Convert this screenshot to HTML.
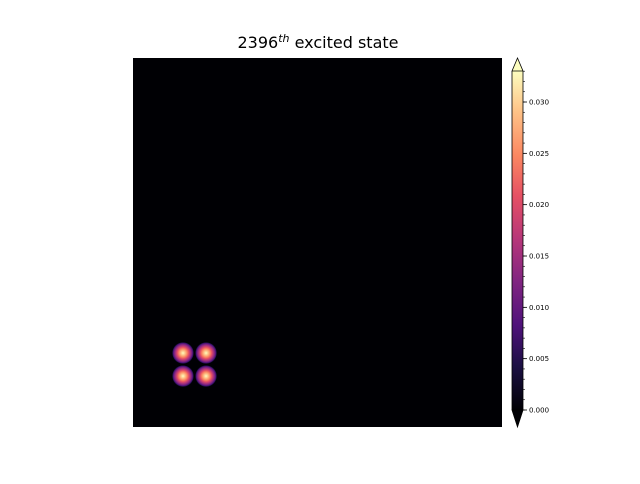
<!DOCTYPE html>
<html><head><meta charset="utf-8"><style>
body{margin:0;background:#fff;width:640px;height:480px;overflow:hidden;font-family:"DejaVu Sans","Liberation Sans",sans-serif}
</style></head><body>
<svg id="chart" width="640" height="480" xmlns="http://www.w3.org/2000/svg">
<defs>
<linearGradient id="magma" x1="0" y1="1" x2="0" y2="0">
<stop offset="0" stop-color="#000004"/><stop offset="0.13" stop-color="#1c1044"/>
<stop offset="0.25" stop-color="#4f127b"/><stop offset="0.38" stop-color="#812581"/>
<stop offset="0.5" stop-color="#b5367a"/><stop offset="0.63" stop-color="#e55064"/>
<stop offset="0.75" stop-color="#fb8761"/><stop offset="0.88" stop-color="#fec287"/>
<stop offset="1" stop-color="#fcfdbf"/></linearGradient>
<radialGradient id="blob">
<stop offset="0" stop-color="#fcfdbf"/><stop offset="0.2" stop-color="#fec287"/>
<stop offset="0.38" stop-color="#fb8761"/><stop offset="0.52" stop-color="#e55064"/>
<stop offset="0.65" stop-color="#b5367a"/><stop offset="0.78" stop-color="#812581"/>
<stop offset="0.88" stop-color="#4f127b"/><stop offset="0.95" stop-color="#1c1044"/>
<stop offset="1" stop-color="#000004" stop-opacity="0"/></radialGradient>
</defs>
<text x="318" y="48" text-anchor="middle" font-size="16">2396<tspan dy="-6" font-size="11" font-style="italic">th</tspan><tspan dy="6"> excited state</tspan></text>
<rect x="133" y="58" width="369" height="369" fill="#000004"/>
<g id="blobs"></g>
<g id="cbar"></g>
</svg>
<script>
const blobX=[0.1355,0.198,0.1355,0.198];
const blobY=[0.2005,0.2005,0.138,0.138];
const blobAmp=[0.033,0.033,0.033,0.033];
const cbTicks=[0,0.005,0.01,0.015,0.02,0.025,0.03];
const cbTickLabels=["0.000","0.005","0.010","0.015","0.020","0.025","0.030"];
const cbMax=0.03302;
const NS="http://www.w3.org/2000/svg";
const pw=369,X0=133,Y0=58;
const sx=v=>X0+v*pw, sy=v=>Y0+(1-v)*pw;
const cy0=410,cy1=71;
const cs=v=>cy0-(v/cbMax)*(cy0-cy1);
function mk(t,a,p){const e=document.createElementNS(NS,t);for(const k in a)e.setAttribute(k,a[k]);p.appendChild(e);return e;}
const bg=document.getElementById('blobs');
blobX.forEach((x,i)=>{
 const c=mk('circle',{cx:sx(x),cy:sy(blobY[i]),r:11*Math.sqrt(blobAmp[i]/0.033),fill:'url(#blob)'},bg);
 
 
});
const cb=document.getElementById('cbar');
const body=mk('rect',{x:512,y:cy1,width:11,height:cy0-cy1,fill:'url(#magma)'},cb);


mk('polygon',{points:`512,${cy1} 517.5,58 523,${cy1}`,fill:'#fcfdbf',stroke:'#000','stroke-width':0.8},cb);
mk('polygon',{points:`512,${cy0} 517.5,427 523,${cy0}`,fill:'#000004',stroke:'#000','stroke-width':0.8},cb);
mk('polyline',{points:`512,${cy1} 512,${cy0}`,stroke:'#000','stroke-width':0.8,fill:'none'},cb);
mk('polyline',{points:`523,${cy1} 523,${cy0}`,stroke:'#000','stroke-width':0.8,fill:'none'},cb);
for(let v=0;v<=cbMax+1e-9;v+=0.001){mk('line',{x1:523,x2:525,y1:cs(v),y2:cs(v),stroke:'#000','stroke-width':0.6},cb);}
cbTicks.forEach((v,i)=>{
 mk('line',{x1:523,x2:527,y1:cs(v),y2:cs(v),stroke:'#000','stroke-width':0.8},cb);
 const t=mk('text',{x:529,y:cs(v)+2.5,'font-size':7},cb);
 t.textContent=cbTickLabels[i];
 
 
});
</script>
</body></html>
